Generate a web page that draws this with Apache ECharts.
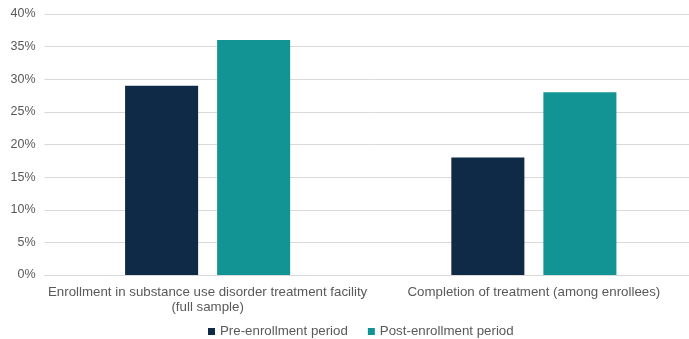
<!DOCTYPE html>
<html>
<head>
<meta charset="utf-8">
<script src="https://cdn.jsdelivr.net/npm/echarts@6/dist/echarts.min.js"></script>
<style>
  html, body { margin: 0; padding: 0; background: #fff; overflow: hidden; }
  /* canvas is a little wider than the window so the gridlines run off the right edge */
  #chart { width: 697px; height: 339px; }
</style>
</head>
<body>
<div id="chart"></div>
<script>
// Outcome categories and period shares (percent)
const categories = [
  'Enrollment in substance use disorder treatment facility\n(full sample)',
  'Completion of treatment (among enrollees)'
];
const preEnrollment = [29, 18];
const postEnrollment = [36, 28];
const seriesNames = ['Pre-enrollment period', 'Post-enrollment period'];

const textColor = '#595959';
const fontFamily = '"Liberation Sans", Arial, Helvetica, sans-serif';

const chart = echarts.init(document.getElementById('chart'), null, { renderer: 'canvas' });
chart.setOption({
  animation: false,
  textStyle: { fontFamily: fontFamily },
  grid: { left: 44.5, right: 0, top: 14, bottom: 64, containLabel: false },
  legend: {
    top: 320,
    left: 203,
    itemWidth: 7,
    itemHeight: 7,
    itemGap: 20,
    icon: 'rect',
    textStyle: { color: textColor, fontSize: 13.3, fontFamily: fontFamily },
    data: seriesNames
  },
  xAxis: {
    type: 'category',
    data: categories,
    axisLine: { lineStyle: { color: '#d9d9d9', width: 1 } },
    axisTick: { show: false },
    axisLabel: {
      color: textColor,
      fontSize: 13.3,
      lineHeight: 15,
      margin: 10,
      interval: 0,
      fontFamily: fontFamily
    }
  },
  yAxis: {
    type: 'value',
    min: 0,
    max: 40,
    interval: 5,
    axisLine: { show: false },
    axisTick: { show: false },
    axisLabel: {
      color: textColor,
      fontSize: 12.5,
      margin: 9,
      formatter: '{value}%',
      fontFamily: fontFamily
    },
    splitLine: { lineStyle: { color: '#d9d9d9', width: 1 } }
  },
  series: [
    {
      name: seriesNames[0],
      type: 'bar',
      data: preEnrollment,
      barGap: '26%',
      barCategoryGap: '49.4%',
      itemStyle: { color: '#0E2A47' }
    },
    {
      name: seriesNames[1],
      type: 'bar',
      data: postEnrollment,
      itemStyle: { color: '#139494' }
    }
  ]
});
</script>
</body>
</html>
